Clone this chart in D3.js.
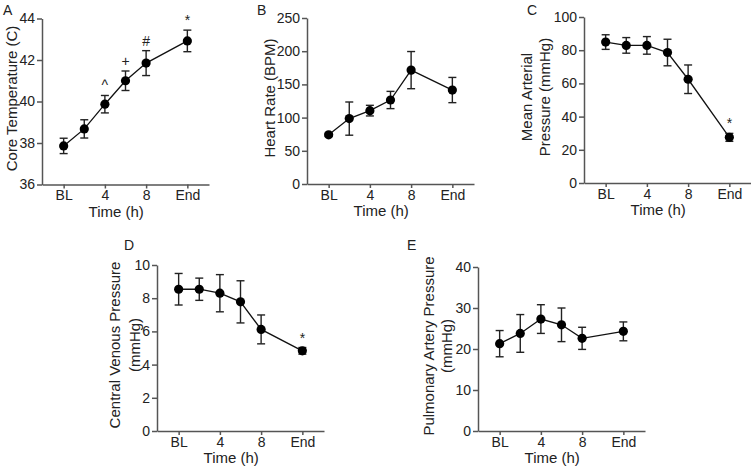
<!DOCTYPE html>
<html>
<head>
<meta charset="utf-8">
<script src="https://cdn.jsdelivr.net/npm/d3@7"></script>
<style>
  html, body { margin: 0; padding: 0; background: #fff; }
  svg { display: block; font-family: "Liberation Sans", Arial, sans-serif; }
</style>
</head>
<body>
<svg id="chart" width="751" height="468"></svg>
<script>
// ---- data ----
const timePoints = [0, 2, 4, 6, 8, 12];
const xTickValues = [0, 4, 8, 12];
const xTickLabels = ["BL", "4", "8", "End"];

const coreTempMean = [37.86, 38.68, 39.87, 41.0, 41.85, 42.92];
const coreTempErr  = [0.37, 0.44, 0.42, 0.47, 0.6, 0.52];
const coreTempMarks = ["", "", "^", "+", "#", "*"];
const coreTempTicks = [36, 38, 40, 42, 44];

const heartRateMean = [74, 98.5, 110.5, 126.5, 171.5, 141.5];
const heartRateErr  = [2.5, 25, 8, 13, 28, 19];
const heartRateMarks = ["", "", "", "", "", ""];
const heartRateTicks = [0, 50, 100, 150, 200, 250];

const mapMean = [84.9, 82.9, 82.9, 78.6, 62.5, 27.5];
const mapErr  = [4.4, 4.7, 5.3, 8.0, 8.6, 2.4];
const mapMarks = ["", "", "", "", "", "*"];
const mapTicks = [0, 20, 40, 60, 80, 100];

const cvpMean = [8.54, 8.54, 8.3, 7.78, 6.12, 4.83];
const cvpErr  = [0.95, 0.67, 1.12, 1.27, 0.87, 0.2];
const cvpMarks = ["", "", "", "", "", "*"];
const cvpTicks = [0, 2, 4, 6, 8, 10];

const papMean = [21.3, 23.8, 27.3, 25.9, 22.6, 24.3];
const papErr  = [3.2, 4.6, 3.5, 4.1, 2.7, 2.3];
const papMarks = ["", "", "", "", "", ""];
const papTicks = [0, 10, 20, 30, 40];

// ---- layout ----
const panels = [
  {letter: "A", lx: 3, ly: 15, left: 42, top: 18.5, bottom: 184.5, title: ["Core Temperature (C)"], titleX: [11],
   mean: coreTempMean, err: coreTempErr, marks: coreTempMarks, ticks: coreTempTicks},
  {letter: "B", lx: 257, ly: 15, left: 307, top: 18, bottom: 184, title: ["Heart Rate (BPM)"], titleX: [269],
   mean: heartRateMean, err: heartRateErr, marks: heartRateMarks, ticks: heartRateTicks},
  {letter: "C", lx: 527, ly: 15, left: 584, top: 17, bottom: 183, title: ["Mean Arterial", "Pressure (mmHg)"], titleX: [526, 544],
   mean: mapMean, err: mapErr, marks: mapMarks, ticks: mapTicks},
  {letter: "D", lx: 124, ly: 250, left: 157, top: 265, bottom: 431, title: ["Central Venous Pressure", "(mmHg)"], titleX: [114, 134],
   mean: cvpMean, err: cvpErr, marks: cvpMarks, ticks: cvpTicks},
  {letter: "E", lx: 407, ly: 250, left: 478, top: 267, bottom: 431, title: ["Pulmonary Artery Pressure", "(mmHg)"], titleX: [428, 446],
   mean: papMean, err: papErr, marks: papMarks, ticks: papTicks}
];

const svg = d3.select("#chart");
const axisColor = "#555";
const textColor = "#222";
const plotW = 167;

panels.forEach(p => {
  const g = svg.append("g");
  const x = d3.scaleLinear().domain([-2.1, 14.1]).range([p.left, p.left + plotW]);
  const y = d3.scaleLinear().domain([d3.min(p.ticks), d3.max(p.ticks)]).range([p.bottom, p.top]);

  // y axis
  const ya = g.append("g").attr("transform", `translate(${p.left},0)`)
    .call(d3.axisLeft(y).tickValues(p.ticks).tickSize(5).tickSizeOuter(0).tickPadding(2));
  // x axis
  const xa = g.append("g").attr("transform", `translate(0,${p.bottom})`)
    .call(d3.axisBottom(x).tickValues(xTickValues).tickFormat((d, i) => xTickLabels[i]).tickSize(4).tickSizeOuter(0).tickPadding(2));
  [ya, xa].forEach(a => {
    a.select(".domain").attr("stroke", axisColor).attr("stroke-width", 1.5);
    a.selectAll(".tick line").attr("stroke", axisColor).attr("stroke-width", 1.5);
    a.selectAll(".tick text").attr("fill", textColor).style("font-size", "14px").style("font-family", "'Liberation Sans', Arial, sans-serif");
  });

  // axis titles
  const cy = (p.top + p.bottom) / 2 - 3;
  p.title.forEach((t, i) => {
    g.append("text")
      .attr("transform", `translate(${p.titleX[i]},${cy}) rotate(-90)`)
      .attr("text-anchor", "middle").attr("dominant-baseline", "central")
      .attr("fill", textColor).style("font-size", "15px").text(t);
  });
  g.append("text").attr("x", x(5.1)).attr("y", p.bottom + 32)
    .attr("text-anchor", "middle").attr("fill", textColor).style("font-size", "15px").text("Time (h)");

  // panel letter
  svg.append("text").attr("x", p.lx).attr("y", p.ly).attr("fill", textColor)
    .style("font-size", "14px").text(p.letter);

  const pts = timePoints.map((t, i) => ({t, m: p.mean[i], e: p.err[i], mk: p.marks[i]}));

  // line
  g.append("path").datum(pts)
    .attr("fill", "none").attr("stroke", "#111").attr("stroke-width", 1.3)
    .attr("d", d3.line().x(d => x(d.t)).y(d => y(d.m)));

  // error bars
  const eb = g.selectAll(".eb").data(pts).enter().append("g");
  eb.append("line").attr("x1", d => x(d.t)).attr("x2", d => x(d.t))
    .attr("y1", d => y(d.m - d.e)).attr("y2", d => y(d.m + d.e))
    .attr("stroke", "#222").attr("stroke-width", 1.4);
  [-1, 1].forEach(s => {
    eb.append("line").attr("x1", d => x(d.t) - 4).attr("x2", d => x(d.t) + 4)
      .attr("y1", d => y(d.m + s * d.e)).attr("y2", d => y(d.m + s * d.e))
      .attr("stroke", "#222").attr("stroke-width", 1.4);
  });

  // points
  g.selectAll(".pt").data(pts).enter().append("circle")
    .attr("cx", d => x(d.t)).attr("cy", d => y(d.m)).attr("r", 4.6).attr("fill", "#000");

  // significance marks
  g.selectAll(".mk").data(pts.filter(d => d.mk)).enter().append("text")
    .attr("x", d => x(d.t)).attr("y", d => y(d.m + d.e) - 5)
    .attr("text-anchor", "middle").attr("fill", textColor).style("font-size", "14px")
    .text(d => d.mk);
});
</script>
</body>
</html>
